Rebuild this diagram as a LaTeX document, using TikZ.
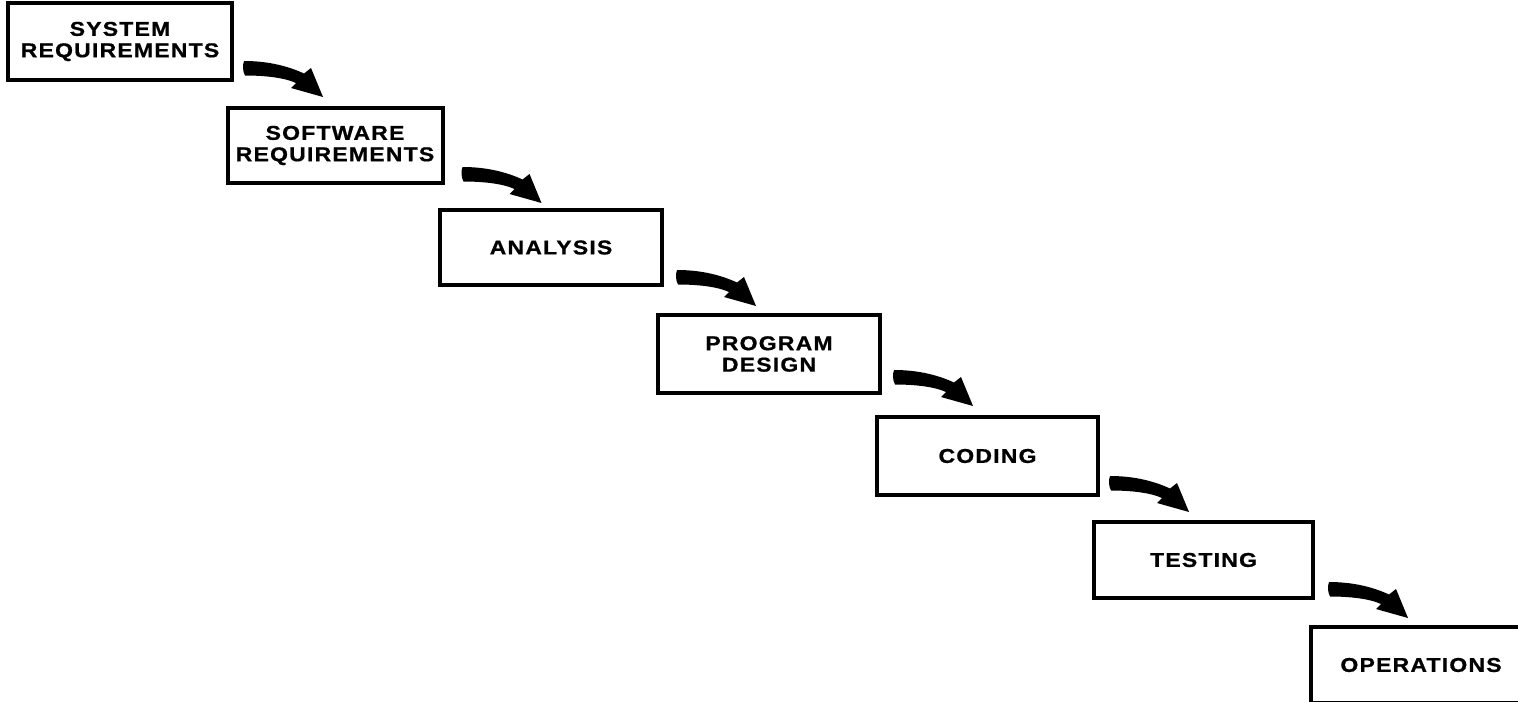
\documentclass[tikz,border=0pt]{standalone}
\usepackage{fontspec}
\usetikzlibrary{calc}
\newfontfamily\boxfont[LetterSpace=6,FakeStretch=1.15,FakeBold=0.8]{Liberation Sans Bold}
\begin{document}
\begin{tikzpicture}[x=0.5pt,y=-0.5pt,
  phase/.style={draw=black, line width=2pt, rectangle, inner sep=0pt,
    align=center, font=\boxfont\fontsize{10}{10.7}\selectfont},
  wfarrow/.pic={
    \fill[black] (0,-7) .. controls (25,-7) and (45,-1.5) .. (60,5.5)
      -- (67,0) -- (79,29) -- (47,20) -- (52,15)
      .. controls (40,9.5) and (20,7.5) .. (1,7.5)
      .. controls (-1.5,3) and (-1.5,-3) .. cycle;
  }]
\useasboundingbox (0,0) rectangle (1518,701);
\clip (0,0) rectangle (1518,701);
\node[phase, minimum width=112pt, minimum height=38.5pt] (sys) at (120,41.5) {SYSTEM\\REQUIREMENTS};
\node[phase, minimum width=107.5pt, minimum height=37.5pt] (sw) at (335,145.5) {SOFTWARE\\REQUIREMENTS};
\node[phase, minimum width=111pt, minimum height=37.5pt] (an) at (551,247.5) {ANALYSIS};
\node[phase, minimum width=111pt, minimum height=39pt] (pd) at (769,354) {PROGRAM\\DESIGN};
\node[phase, minimum width=110.5pt, minimum height=39pt] (cd) at (987.5,456) {CODING};
\node[phase, minimum width=109.5pt, minimum height=38pt] (ts) at (1203.5,560) {TESTING};
\node[phase, minimum width=110pt, minimum height=38pt] (op) at (1421,665) {OPERATIONS};
\pic at ($(sys.south east)+(10,-14)$) {wfarrow};
\pic at ($(sw.south east)+(18,-11)$) {wfarrow};
\pic at ($(an.south east)+(13,-10)$) {wfarrow};
\pic at ($(pd.south east)+(12,-18)$) {wfarrow};
\pic at ($(cd.south east)+(10,-14)$) {wfarrow};
\pic at ($(ts.south east)+(14,-11)$) {wfarrow};
\end{tikzpicture}
\end{document}
